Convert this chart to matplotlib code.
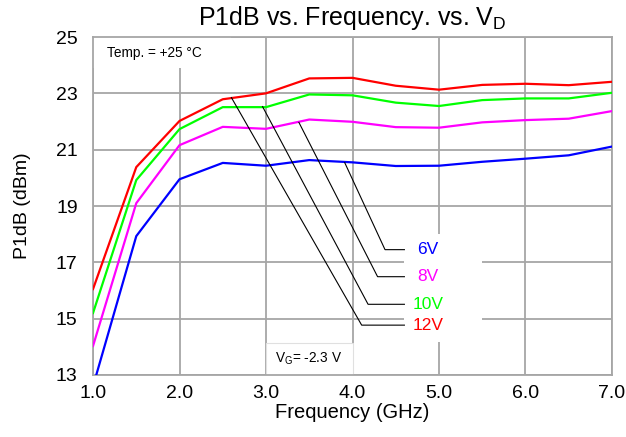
import matplotlib.pyplot as plt
from matplotlib.patches import Rectangle

plt.rcParams['font.family'] = ['Liberation Sans', 'DejaVu Sans']

freq = [1.0, 1.5, 2.0, 2.5, 3.0, 3.5, 4.0, 4.5, 5.0, 5.5, 6.0, 6.5, 7.0]
p1db_6v = [12.6, 17.93, 19.95, 20.53, 20.43, 20.63, 20.55, 20.42, 20.43, 20.57, 20.68, 20.8, 21.11]
p1db_8v = [14.03, 19.1, 21.16, 21.81, 21.74, 22.07, 21.99, 21.8, 21.78, 21.97, 22.05, 22.1, 22.37]
p1db_10v = [15.2, 19.92, 21.73, 22.51, 22.51, 22.96, 22.93, 22.67, 22.55, 22.76, 22.82, 22.82, 23.02]
p1db_12v = [16.05, 20.38, 22.02, 22.79, 23.0, 23.53, 23.55, 23.27, 23.13, 23.3, 23.34, 23.29, 23.41]

labels = ['6V', '8V', '10V', '12V']
colors = ['#0000ff', '#ff00ff', '#00ff00', '#ff0000']
series = [p1db_6v, p1db_8v, p1db_10v, p1db_12v]

# leader line: start on curve, elbow (label height)
leaders = [
    ((3.91, 20.54), (4.376, 17.45)),
    ((3.38, 21.97), (4.29, 16.49)),
    ((2.96, 22.53), (4.18, 15.51)),
    ((2.6, 22.85), (4.106, 14.77)),
]

fig = plt.figure(figsize=(6.26, 4.37), dpi=100)
ax = fig.add_axes([0.1486, 0.1419, 0.8290, 0.7734])

for vals, c in zip(series, colors):
    ax.plot(freq, vals, color=c, linewidth=1.6, zorder=3)

ax.set_xlim(1.0, 7.0)
ax.set_ylim(13, 25)
ax.set_xticks([1, 2, 3, 4, 5, 6, 7])
ax.set_xticklabels(['%.1f' % v for v in [1, 2, 3, 4, 5, 6, 7]])
ax.set_yticks([13, 15, 17, 19, 21, 23, 25])
ax.tick_params(length=0, labelsize=14)
ax.tick_params(axis='x', pad=7)
ax.tick_params(axis='y', pad=11)
ax.grid(color='#a6a6a6', linewidth=1.3, zorder=0)
ax.set_axisbelow(True)
for s in ax.spines.values():
    s.set_color('#a6a6a6')
    s.set_linewidth(1.3)

# white boxes masking the grid
ax.add_patch(Rectangle((1.0, 23.9), 1.6, 1.1, facecolor='white', edgecolor='none', zorder=1))
ax.add_patch(Rectangle((4.6, 14.17), 0.9, 3.85, facecolor='white', edgecolor='none', zorder=1))
ax.add_patch(Rectangle((3.0, 13.0), 1.0, 1.15, facecolor='white', edgecolor='#e0e0e0',
                       linewidth=0.8, zorder=1))

for (start, elbow), lab, c in zip(leaders, labels, colors):
    ax.plot([start[0], elbow[0], 4.6], [start[1], elbow[1], elbow[1]],
            color='black', linewidth=0.8, zorder=4)
    ax.text(4.87, elbow[1], lab, color=c, fontsize=12.5, ha='center', va='center', zorder=5)

ax.text(1.16, 24.42, 'Temp. = +25 °C', fontsize=9.8, va='center', zorder=5)
ax.text(3.1, 13.58, '$\\mathregular{V_G}$= -2.3 V', fontsize=9.8, va='center', zorder=5)

ax.set_title('P1dB vs. Frequency. vs. $\\mathregular{V_D}$', fontsize=18, pad=9)
ax.set_xlabel('Frequency (GHz)', fontsize=14.5, labelpad=1)
ax.set_ylabel('P1dB (dBm)', fontsize=14, labelpad=18)

fig.savefig('out.png', dpi=100)
